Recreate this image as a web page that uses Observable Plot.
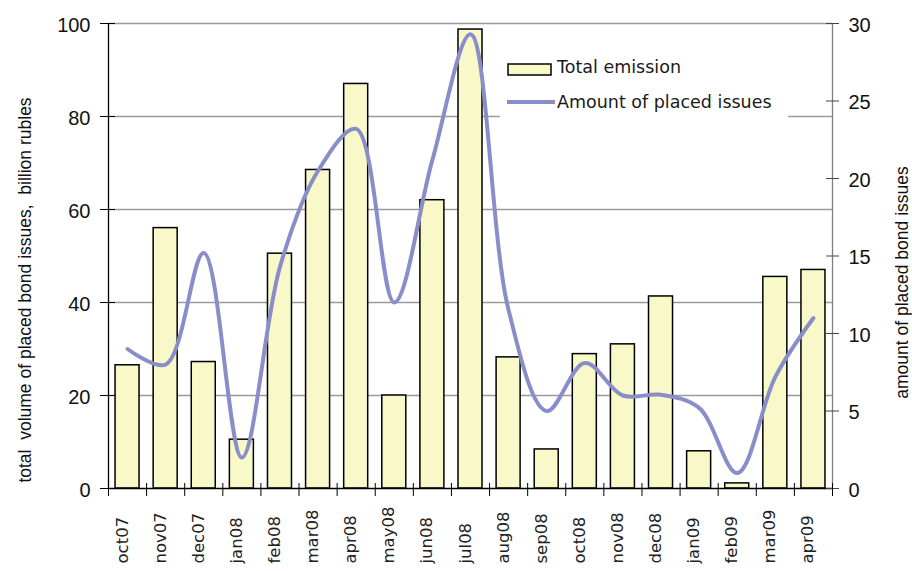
<!DOCTYPE html>
<html><head><meta charset="utf-8">
<script src="https://cdn.jsdelivr.net/npm/d3@7"></script>
<script src="https://cdn.jsdelivr.net/npm/@observablehq/plot@0.6"></script>
<style>
html,body{margin:0;padding:0;background:#fff;}
#wrap{position:relative;width:912px;height:571px;overflow:hidden;}
#legend{position:absolute;left:500px;top:46px;width:288px;height:74px;background:#fff;}
</style></head><body>
<div id="wrap"><div id="chart"></div><div id="legend"></div></div>
<script>
const months = ["oct07","nov07","dec07","jan08","feb08","mar08","apr08","may08","jun08","jul08","aug08","sep08","oct08","nov08","dec08","jan09","feb09","mar09","apr09"];
const totalEmission = [26.5, 56, 27.2, 10.5, 50.5, 68.5, 87, 20, 62, 98.7, 28.2, 8.4, 28.9, 31, 41.3, 8, 1.1, 45.5, 47];
const placedIssues = [9, 8, 15.2, 2, 14.3, 20.5, 23.2, 12, 21.2, 29.3, 11.5, 5, 8.1, 6, 6.05, 5.2, 1, 7.2, 11];
const leftTicks = [0, 20, 40, 60, 80, 100];
const rightTicks = [0, 5, 10, 15, 20, 25, 30];
const leftTitle = "total\u00a0 volume of placed bond issues,\u00a0 billion rubles";
const rightTitle = "amount of placed bond issues";
const legendLabels = ["Total emission", "Amount of placed issues"];

const BAR_FILL = "#f8f8c8";
const LINE_COLOR = "#8a8ec8";
const RATIO = 100 / 30;
const data = months.map((m, i) => ({i, month: m, total: totalEmission[i], count: placedIssues[i]}));
const bounds = d3.range(-0.5, months.length, 1);

const chart = Plot.plot({
  width: 912, height: 571,
  marginTop: 23, marginLeft: 108, marginRight: 80, marginBottom: 83,
  x: {domain: [-0.5, months.length - 0.5], axis: null},
  y: {domain: [0, 100], axis: null},
  style: {fontFamily: "'Liberation Sans', Arial, sans-serif", fontSize: "20px", color: "#000", background: "#fff", overflow: "visible"},
  marks: [
    Plot.gridY(leftTicks.slice(1), {stroke: "#9a9a9a", strokeOpacity: 1, strokeWidth: 1.3}),
    Plot.rectY(data, {x1: d => d.i - 0.315, x2: d => d.i + 0.315, y: "total", fill: BAR_FILL, stroke: "#000", strokeWidth: 1.5}),
    Plot.ruleX([-0.5], {stroke: "#000", strokeWidth: 1.3}),
    Plot.ruleX([months.length - 0.5], {stroke: "#808080", strokeWidth: 1.3}),
    Plot.ruleY([0], {stroke: "#000", strokeWidth: 1.3}),
    Plot.line(data, {x: "i", y: d => d.count * RATIO, curve: "catmull-rom", stroke: LINE_COLOR, strokeWidth: 4}),
    // left axis ticks (crossing) and labels
    Plot.axisY({ticks: leftTicks, tickFormat: () => "", tickSize: 15, dx: 7, label: null}),
    Plot.axisY({ticks: leftTicks, tickSize: 0, tickPadding: 18, dy: 2, label: null, fill: "#111"}),
    // right axis
    Plot.axisY({anchor: "right", ticks: rightTicks.map(v => v * RATIO), tickFormat: () => "", tickSize: 13, dx: -7, label: null, stroke: "#444"}),
    Plot.axisY({anchor: "right", ticks: rightTicks.map(v => v * RATIO), tickFormat: v => String(Math.round(v / RATIO)), tickSize: 0, tickPadding: 16, dy: 2, label: null, fill: "#111"}),
    // x boundary ticks
    Plot.axisX({ticks: bounds, tickFormat: () => "", tickSize: 13, dy: -5, label: null}),
    // x labels
    Plot.text(data, {x: "i", text: "month", frameAnchor: "bottom", rotate: -90, textAnchor: "start", dy: 75, fontSize: 16.5, fontFamily: "'DejaVu Sans', sans-serif", fill: "#222"}),
    // axis titles
    Plot.text([leftTitle], {text: d => d, frameAnchor: "left", textAnchor: "middle", rotate: -90, dx: -83, dy: 34, fontSize: 17.5, fill: "#111"}),
    Plot.text([rightTitle], {text: d => d, frameAnchor: "right", textAnchor: "middle", rotate: -90, dx: 70, dy: 26.5, fontSize: 17.5, fill: "#111"})
  ]
});
document.getElementById("chart").appendChild(chart);

// legend
const ns = "http://www.w3.org/2000/svg";
const lg = document.createElementNS(ns, "svg");
lg.setAttribute("width", 288); lg.setAttribute("height", 74);
function el(tag, attrs, txt) {
  const e = document.createElementNS(ns, tag);
  for (const k in attrs) e.setAttribute(k, attrs[k]);
  if (txt) e.textContent = txt;
  lg.appendChild(e);
  return e;
}
el("rect", {x: 8, y: 18, width: 43, height: 11, fill: BAR_FILL, stroke: "#000", "stroke-width": 1.5});
el("text", {x: 57, y: 27.3, "font-size": 17.5, "font-family": "'DejaVu Sans', sans-serif", fill: "#1a1a1a"}, legendLabels[0]);
el("line", {x1: 7, x2: 55, y1: 56, y2: 56, stroke: LINE_COLOR, "stroke-width": 4});
el("text", {x: 57, y: 62.3, "font-size": 17.5, "font-family": "'DejaVu Sans', sans-serif", fill: "#1a1a1a"}, legendLabels[1]);
document.getElementById("legend").appendChild(lg);
</script>
</body></html>
